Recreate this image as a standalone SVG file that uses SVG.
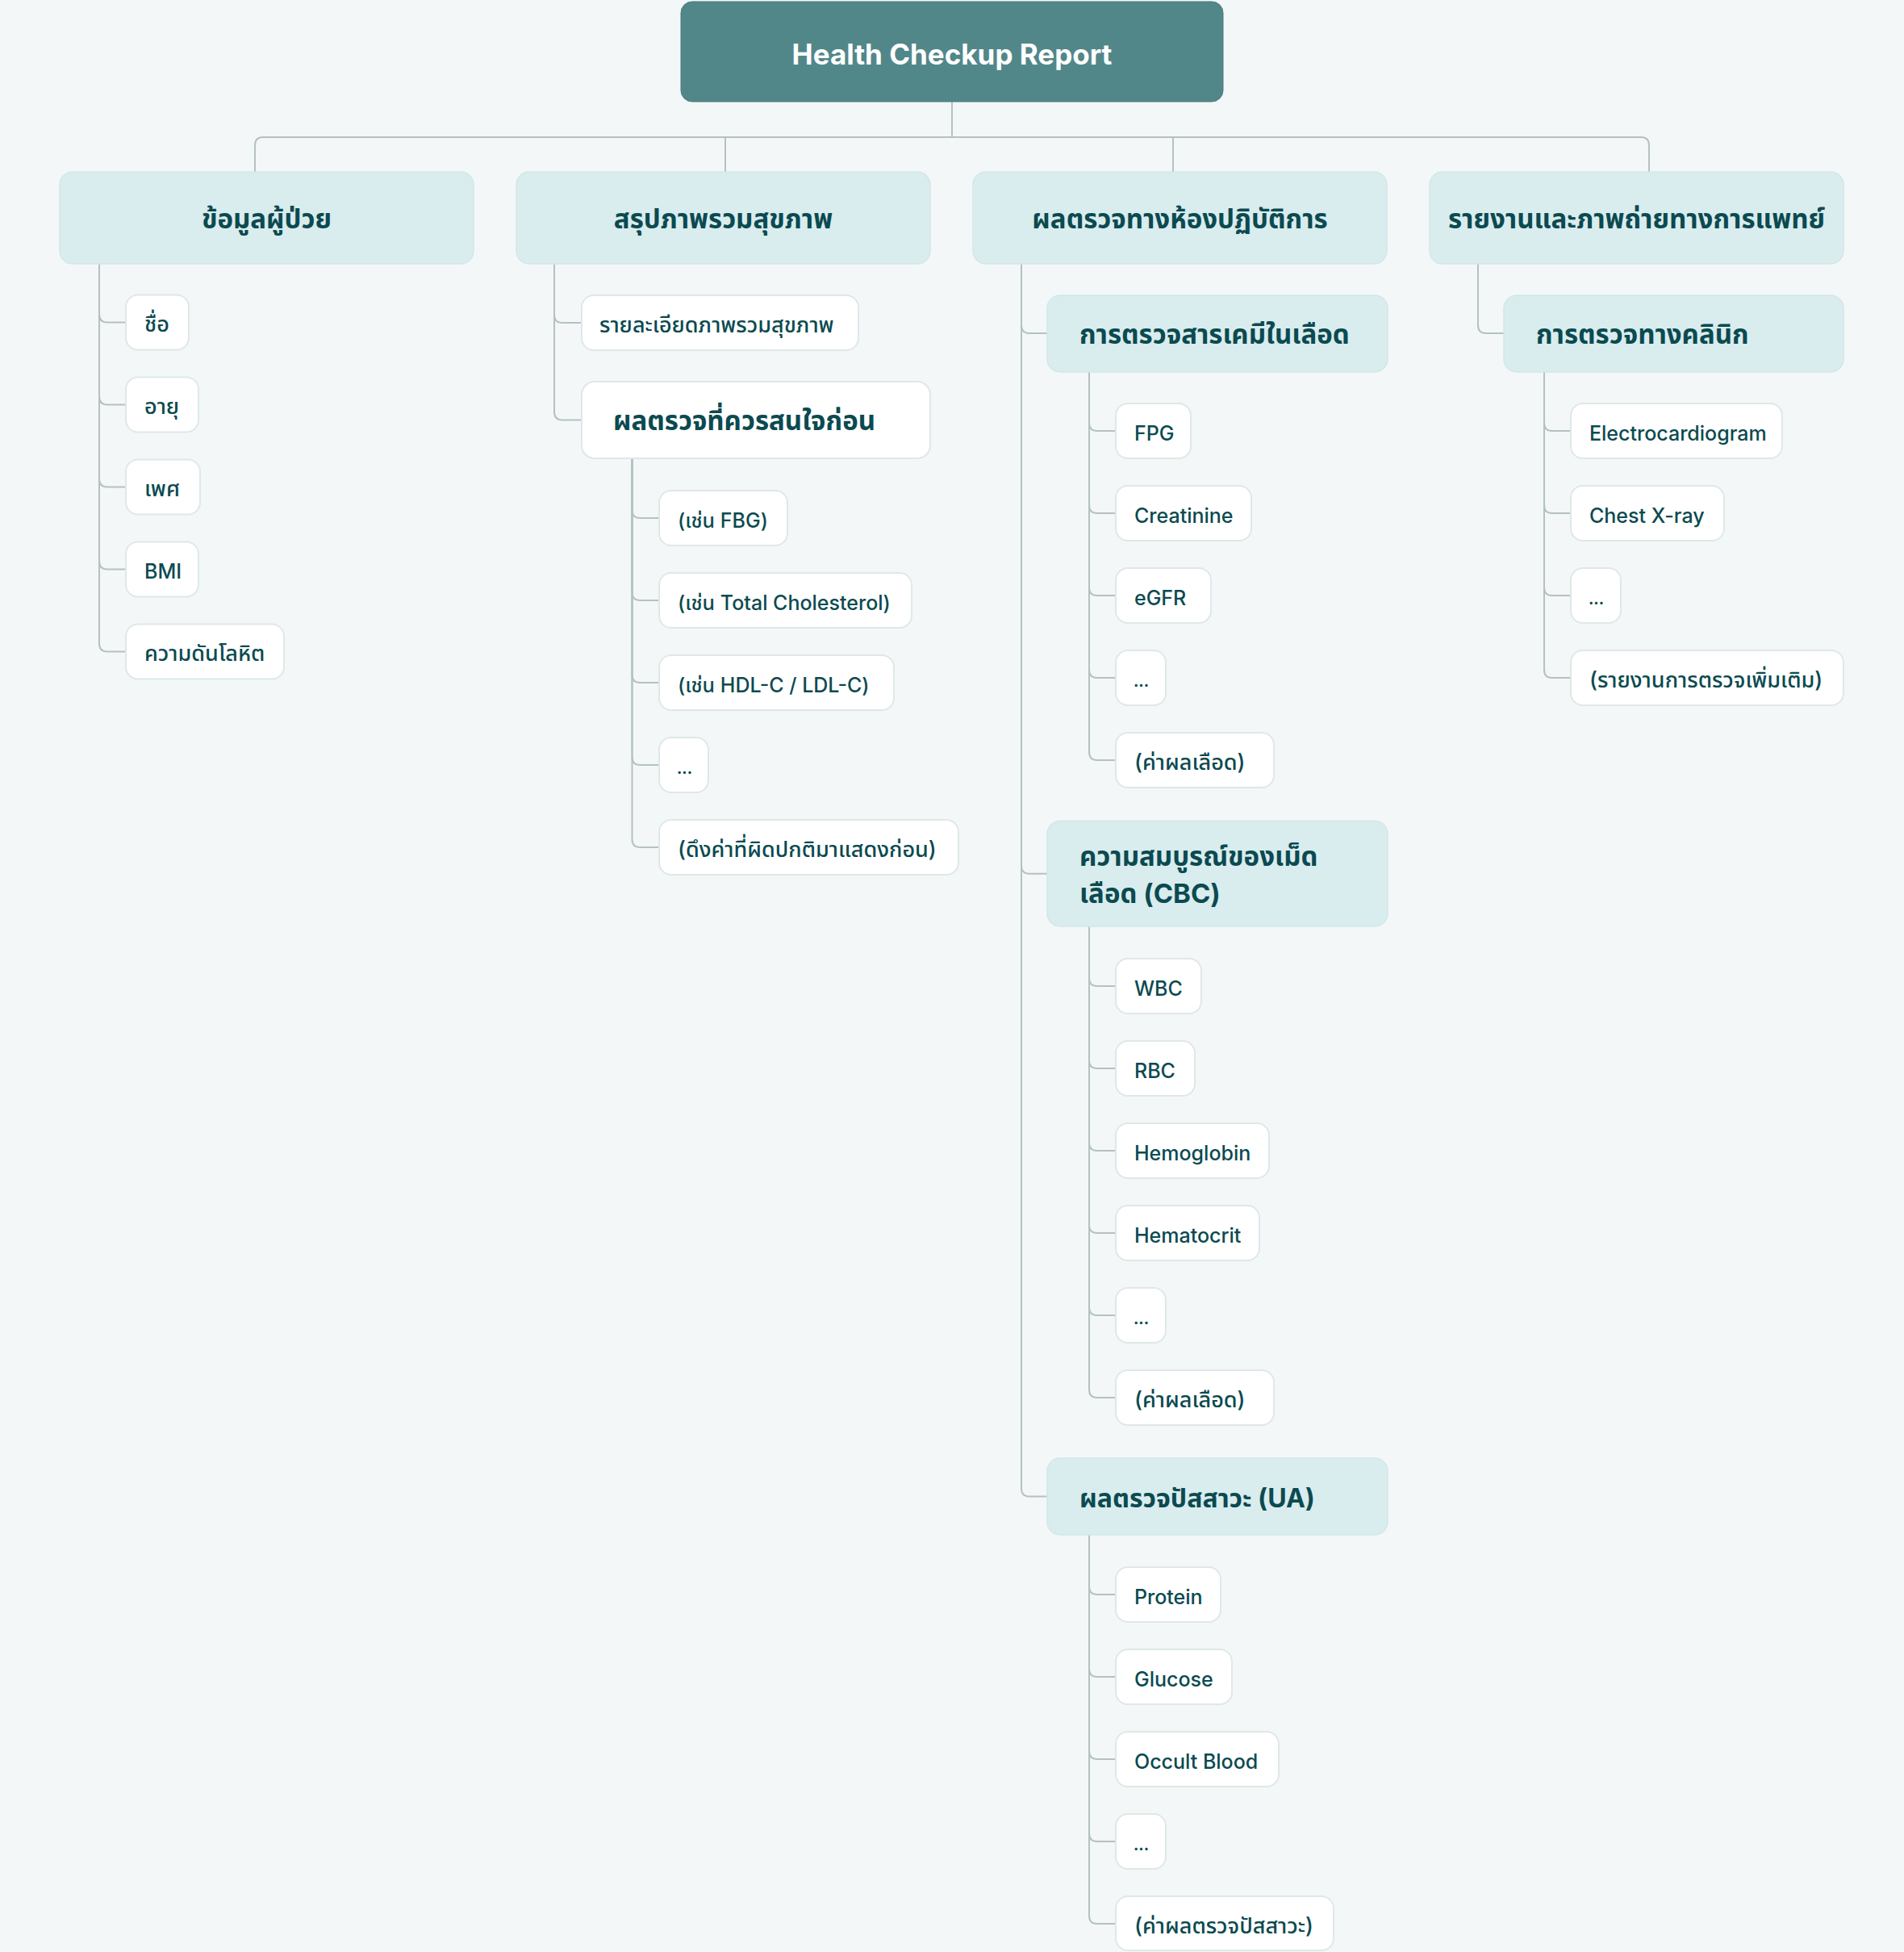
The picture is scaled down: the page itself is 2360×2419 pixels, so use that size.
<svg xmlns="http://www.w3.org/2000/svg" width="2360" height="2419" viewBox="0 0 2360 2419">
<style>
.bg{fill:#f3f7f8}
.root{fill:#52878a;stroke:#4a7d80;stroke-width:1}
.hd{fill:#d9ecee;stroke:#d3e6e8;stroke-width:1.5}
.wh{fill:#ffffff;stroke:#dfe8e8;stroke-width:2}
.lf{fill:#ffffff;stroke:#dfe8e8;stroke-width:2}
text{font-family:Inter,"Noto Sans Thai","Noto Sans","DejaVu Sans",sans-serif;fill:#0b4a50}
.rt{fill:#ffffff;font-size:35px;font-weight:700}
.ht{font-size:33px;font-weight:700}
.hm{font-size:32px;font-weight:700}
.lt{font-size:25px;font-weight:500}
.th{font-size:27px;font-weight:500}
.el{font-size:19px;font-weight:700}
.con path{fill:none;stroke:#b5c1c1;stroke-width:2}
</style>
<rect class="bg" x="0" y="0" width="2360" height="2419"/>
<g class="con" id="connectors">
<path d="M1180,126 V170"/>
<path d="M316,213 V180 Q316,170 326,170 H2034 Q2044,170 2044,180 V213"/>
<path d="M899,170 V213"/>
<path d="M1454,170 V213"/>
<path d="M123,327 V389.5 Q123,399.5 133,399.5 H156"/>
<path d="M123,327 V491.5 Q123,501.5 133,501.5 H156"/>
<path d="M123,327 V593.5 Q123,603.5 133,603.5 H156"/>
<path d="M123,327 V695.5 Q123,705.5 133,705.5 H156"/>
<path d="M123,327 V797.5 Q123,807.5 133,807.5 H156"/>
<path d="M687,327 V390 Q687,400 697,400 H721"/>
<path d="M687,327 V510.5 Q687,520.5 697,520.5 H721"/>
<path d="M783.5,568 V632 Q783.5,642 793.5,642 H817"/>
<path d="M783.5,568 V734 Q783.5,744 793.5,744 H817"/>
<path d="M783.5,568 V836 Q783.5,846 793.5,846 H817"/>
<path d="M783.5,568 V938 Q783.5,948 793.5,948 H817"/>
<path d="M783.5,568 V1040 Q783.5,1050 793.5,1050 H817"/>
<path d="M1266,327 V403 Q1266,413 1276,413 H1298"/>
<path d="M1266,327 V1072.75 Q1266,1082.75 1276,1082.75 H1298"/>
<path d="M1266,327 V1844.5 Q1266,1854.5 1276,1854.5 H1298"/>
<path d="M1350,461 V524 Q1350,534 1360,534 H1383"/>
<path d="M1350,461 V626 Q1350,636 1360,636 H1383"/>
<path d="M1350,461 V728 Q1350,738 1360,738 H1383"/>
<path d="M1350,461 V830 Q1350,840 1360,840 H1383"/>
<path d="M1350,461 V932 Q1350,942 1360,942 H1383"/>
<path d="M1350,1148 V1212 Q1350,1222 1360,1222 H1383"/>
<path d="M1350,1148 V1314 Q1350,1324 1360,1324 H1383"/>
<path d="M1350,1148 V1416 Q1350,1426 1360,1426 H1383"/>
<path d="M1350,1148 V1518 Q1350,1528 1360,1528 H1383"/>
<path d="M1350,1148 V1620 Q1350,1630 1360,1630 H1383"/>
<path d="M1350,1148 V1722 Q1350,1732 1360,1732 H1383"/>
<path d="M1350,1902 V1966 Q1350,1976 1360,1976 H1383"/>
<path d="M1350,1902 V2068 Q1350,2078 1360,2078 H1383"/>
<path d="M1350,1902 V2170 Q1350,2180 1360,2180 H1383"/>
<path d="M1350,1902 V2272 Q1350,2282 1360,2282 H1383"/>
<path d="M1350,1902 V2374 Q1350,2384 1360,2384 H1383"/>
<path d="M1832,327 V403 Q1832,413 1842,413 H1864"/>
<path d="M1914,461 V524 Q1914,534 1924,534 H1947"/>
<path d="M1914,461 V626 Q1914,636 1924,636 H1947"/>
<path d="M1914,461 V728 Q1914,738 1924,738 H1947"/>
<path d="M1914,461 V830 Q1914,840 1924,840 H1947"/>
</g>

<g id="root"><rect class="root" x="844" y="2" width="672" height="124" rx="14"/><text class="rt" x="1180" y="80" text-anchor="middle">Health Checkup Report</text></g>

<g id="h1"><rect class="hd" x="74" y="213" width="513" height="114" rx="16"/><text class="ht" x="330.5" y="283" text-anchor="middle">ข้อมูลผู้ป่วย</text></g>
<g id="h2"><rect class="hd" x="640" y="213" width="513" height="114" rx="16"/><text class="ht" x="896.5" y="283" text-anchor="middle">สรุปภาพรวมสุขภาพ</text></g>
<g id="h3"><rect class="hd" x="1206" y="213" width="513" height="114" rx="16"/><text class="ht" x="1462.5" y="283" text-anchor="middle">ผลตรวจทางห้องปฏิบัติการ</text></g>
<g id="h4"><rect class="hd" x="1772" y="213" width="513" height="114" rx="16"/><text class="ht" x="2028.5" y="283" text-anchor="middle">รายงานและภาพถ่ายทางการแพทย์</text></g>

<g id="n-name"><rect class="lf" x="156" y="365.5" width="78" height="68" rx="15"/><text class="th" x="179" y="411">ชื่อ</text></g>
<g id="n-age"><rect class="lf" x="156" y="467.5" width="90" height="68" rx="15"/><text class="th" x="179" y="513">อายุ</text></g>
<g id="n-sex"><rect class="lf" x="156" y="569.5" width="92" height="68" rx="15"/><text class="th" x="179" y="615">เพศ</text></g>
<g id="n-bmi"><rect class="lf" x="156" y="671.5" width="90" height="68" rx="15"/><text class="lt" x="179" y="717">BMI</text></g>
<g id="n-bp"><rect class="lf" x="156" y="773.5" width="196" height="68" rx="15"/><text class="th" x="179" y="819">ความดันโลหิต</text></g>

<g id="n-overview"><rect class="lf" x="721" y="366" width="343" height="68" rx="15"/><text class="th" x="743" y="411.5">รายละเอียดภาพรวมสุขภาพ</text></g>
<g id="n-attention"><rect class="wh" x="721" y="473" width="432" height="95" rx="16"/><text class="ht" x="760" y="533">ผลตรวจที่ควรสนใจก่อน</text></g>
<g id="n-fbg"><rect class="lf" x="817" y="608" width="159" height="68" rx="15"/><text class="lt" x="840" y="653.5">(เช่น FBG)</text></g>
<g id="n-tc"><rect class="lf" x="817" y="710" width="313" height="68" rx="15"/><text class="lt" x="840" y="755.5">(เช่น Total Cholesterol)</text></g>
<g id="n-hdl"><rect class="lf" x="817" y="812" width="291" height="68" rx="15"/><text class="lt" x="840" y="857.5">(เช่น HDL-C / LDL-C)</text></g>
<g id="n-etc1"><rect class="lf" x="817" y="914" width="61" height="68" rx="15"/><text class="el" x="839" y="959">...</text></g>
<g id="n-abn"><rect class="lf" x="817" y="1016" width="371" height="68" rx="15"/><text class="th" x="840" y="1061.5">(ดึงค่าที่ผิดปกติมาแสดงก่อน)</text></g>

<g id="n-chem"><rect class="hd" x="1298" y="366" width="422" height="95" rx="16"/><text class="ht" x="1338" y="425.5">การตรวจสารเคมีในเลือด</text></g>
<g id="n-fpg"><rect class="lf" x="1383" y="500" width="93" height="68" rx="15"/><text class="lt" x="1406" y="545.5">FPG</text></g>
<g id="n-cr"><rect class="lf" x="1383" y="602" width="168" height="68" rx="15"/><text class="lt" x="1406" y="647.5">Creatinine</text></g>
<g id="n-egfr"><rect class="lf" x="1383" y="704" width="118" height="68" rx="15"/><text class="lt" x="1406" y="749.5">eGFR</text></g>
<g id="n-etc2"><rect class="lf" x="1383" y="806" width="62" height="68" rx="15"/><text class="el" x="1405" y="851">...</text></g>
<g id="n-blood1"><rect class="lf" x="1383" y="908" width="196" height="68" rx="15"/><text class="th" x="1406" y="953.5">(ค่าผลเลือด)</text></g>

<g id="n-cbc"><rect class="hd" x="1298" y="1017.5" width="422" height="130.5" rx="16"/><text class="ht" x="1338" y="1073">ความสมบูรณ์ของเม็ด</text><text class="ht" x="1338" y="1119">เลือด (CBC)</text></g>
<g id="n-wbc"><rect class="lf" x="1383" y="1188" width="106" height="68" rx="15"/><text class="lt" x="1406" y="1233.5">WBC</text></g>
<g id="n-rbc"><rect class="lf" x="1383" y="1290" width="98" height="68" rx="15"/><text class="lt" x="1406" y="1335.5">RBC</text></g>
<g id="n-hb"><rect class="lf" x="1383" y="1392" width="190" height="68" rx="15"/><text class="lt" x="1406" y="1437.5">Hemoglobin</text></g>
<g id="n-hct"><rect class="lf" x="1383" y="1494" width="178" height="68" rx="15"/><text class="lt" x="1406" y="1539.5">Hematocrit</text></g>
<g id="n-etc3"><rect class="lf" x="1383" y="1596" width="62" height="68" rx="15"/><text class="el" x="1405" y="1641">...</text></g>
<g id="n-blood2"><rect class="lf" x="1383" y="1698" width="196" height="68" rx="15"/><text class="th" x="1406" y="1743.5">(ค่าผลเลือด)</text></g>

<g id="n-ua"><rect class="hd" x="1298" y="1807" width="422" height="95" rx="16"/><text class="hm" x="1338" y="1867.5">ผลตรวจปัสสาวะ (UA)</text></g>
<g id="n-protein"><rect class="lf" x="1383" y="1942" width="130" height="68" rx="15"/><text class="lt" x="1406" y="1987.5">Protein</text></g>
<g id="n-glucose"><rect class="lf" x="1383" y="2044" width="144" height="68" rx="15"/><text class="lt" x="1406" y="2089.5">Glucose</text></g>
<g id="n-occult"><rect class="lf" x="1383" y="2146" width="202" height="68" rx="15"/><text class="lt" x="1406" y="2191.5">Occult Blood</text></g>
<g id="n-etc4"><rect class="lf" x="1383" y="2248" width="62" height="68" rx="15"/><text class="el" x="1405" y="2293">...</text></g>
<g id="n-urine"><rect class="lf" x="1383" y="2350" width="270" height="67" rx="15"/><text class="th" x="1406" y="2395.5">(ค่าผลตรวจปัสสาวะ)</text></g>

<g id="n-clinic"><rect class="hd" x="1864" y="366" width="421" height="95" rx="16"/><text class="ht" x="1904" y="425.5">การตรวจทางคลินิก</text></g>
<g id="n-ecg"><rect class="lf" x="1947" y="500" width="262" height="68" rx="15"/><text class="lt" x="1970" y="545.5">Electrocardiogram</text></g>
<g id="n-cxr"><rect class="lf" x="1947" y="602" width="190" height="68" rx="15"/><text class="lt" x="1970" y="647.5">Chest X-ray</text></g>
<g id="n-etc5"><rect class="lf" x="1947" y="704" width="62" height="68" rx="15"/><text class="el" x="1969" y="749">...</text></g>
<g id="n-more"><rect class="lf" x="1947" y="806" width="338" height="68" rx="15"/><text class="th" x="1970" y="851.5">(รายงานการตรวจเพิ่มเติม)</text></g>
</svg>
